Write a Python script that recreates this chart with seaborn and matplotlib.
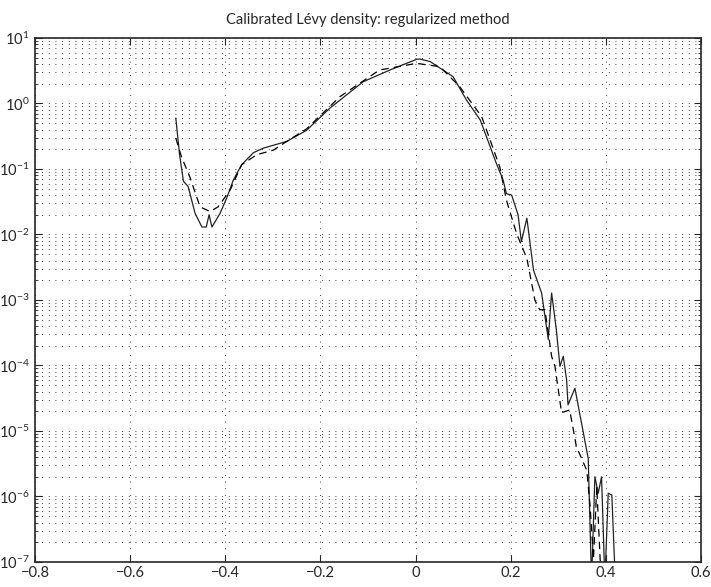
from matplotlib import pyplot as plt
import pandas as pd
import seaborn as sns

# Calibrated Levy density (solid) vs. reference (dashed)
x_solid = [-0.504, -0.496, -0.488, -0.478, -0.4635, -0.449, -0.440, -0.434, -0.428,
           -0.411, -0.397, -0.383, -0.3655, -0.341, -0.320, -0.2705, -0.229, -0.180,
           -0.110, -0.054, 0.002, 0.009, 0.031, 0.079, 0.107, 0.136, 0.170, 0.184,
           0.191, 0.202, 0.2155, 0.2225, 0.234, 0.248, 0.265, 0.279, 0.286, 0.296,
           0.3035, 0.3105, 0.3175, 0.3205, 0.335, 0.363, 0.370, 0.377, 0.384, 0.391,
           0.398, 0.405, 0.4126, 0.420]
y_solid = [0.60, 0.165, 0.065, 0.054, 0.021, 0.013, 0.013, 0.020, 0.013,
           0.021, 0.036, 0.068, 0.116, 0.177, 0.208, 0.264, 0.39, 0.85,
           2.15, 3.24, 4.72, 4.78, 4.35, 2.56, 1.13, 0.56, 0.121, 0.068,
           0.042, 0.040, 0.020, 0.0078, 0.0177, 0.00284, 0.00128, 2.5e-4, 1.28e-3, 3.5e-4,
           9.7e-5, 1.38e-4, 6.1e-5, 2.5e-5, 4.5e-5, 3.8e-6, 5e-8, 2.0e-6, 1.12e-6, 2.0e-6,
           5e-8, 1.12e-6, 1.05e-6, 5e-8]

x_dash = [-0.504, -0.492, -0.4746, -0.453, -0.432, -0.415, -0.390, -0.3655, -0.334,
          -0.299, -0.2705, -0.229, -0.159, -0.076, 0.002, 0.051, 0.093, 0.139,
          0.177, 0.191, 0.2125, 0.234, 0.251, 0.261, 0.272, 0.286, 0.293, 0.307,
          0.324, 0.338, 0.360, 0.367, 0.374, 0.381, 0.388, 0.395]
y_dash = [0.296, 0.153, 0.076, 0.0264, 0.0224, 0.0264, 0.0475, 0.116, 0.165,
          0.194, 0.264, 0.41, 1.27, 3.24, 4.1, 3.65, 1.8, 0.63,
          0.108, 0.0334, 0.0103, 0.0043, 9.9e-4, 7.1e-4, 7.1e-4, 1.38e-4, 9.7e-5, 1.9e-5,
          2.1e-5, 5.8e-6, 2.5e-6, 7.0e-7, 1.1e-7, 1.4e-6, 1.1e-7, 5e-8]

x_ticks = [-0.8, -0.6, -0.4, -0.2, 0, 0.2, 0.4, 0.6]
x_labels = ['\u22120.8', '\u22120.6', '\u22120.4', '\u22120.2', '0', '0.2', '0.4', '0.6']

df1 = pd.DataFrame({'x': x_solid, 'density': y_solid})
df2 = pd.DataFrame({'x': x_dash, 'density': y_dash})

sns.set_style('ticks')
plt.rcParams['font.family'] = ['Lato', 'DejaVu Sans']
plt.rcParams['mathtext.fontset'] = 'custom'
plt.rcParams['mathtext.rm'] = 'Lato'
plt.rcParams['mathtext.it'] = 'Lato'

fig = plt.figure(figsize=(7.11, 5.87), dpi=100)
ax = fig.add_axes([0.0492, 0.0426, 0.9367, 0.8927])

sns.lineplot(data=df1, x='x', y='density', ax=ax, color='#222222', lw=0.9,
             sort=False, estimator=None)
sns.lineplot(data=df2, x='x', y='density', ax=ax, color='black', lw=0.9,
             sort=False, estimator=None, linestyle=(0, (6, 4)))

ax.set_yscale('log')
ax.set_xlim(-0.8, 0.6)
ax.set_ylim(1e-7, 1e1)
ax.set_xticks(x_ticks, x_labels)
ax.set_xlabel('')
ax.set_ylabel('')
ax.set_title('Calibrated Lévy density: regularized method', fontsize=10.5, pad=10)

ax.grid(True, which='major', axis='x', color='black', lw=0.6, linestyle=(0, (1, 7)))
ax.grid(True, which='both', axis='y', color='black', lw=0.6, linestyle=(0, (1, 7)))
ax.tick_params(direction='in', top=True, right=True, which='both', labelsize=10.5)
ax.tick_params(which='major', length=5)
ax.tick_params(axis='x', pad=3)
ax.tick_params(axis='y', pad=4)
ax.tick_params(which='minor', length=2.5)
for s in ax.spines.values():
    s.set_linewidth(1.2)

fig.savefig('out.png', dpi=100)
